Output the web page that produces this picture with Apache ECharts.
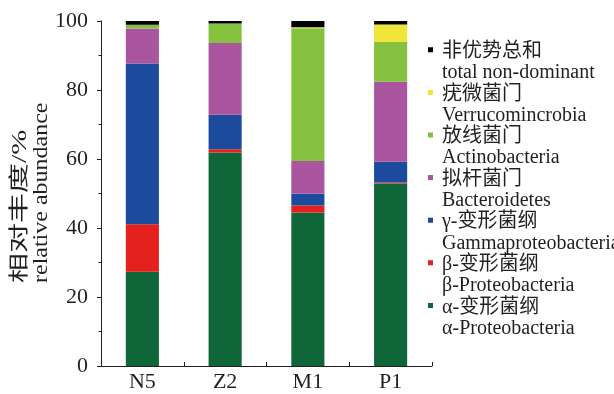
<!DOCTYPE html>
<html>
<head>
<meta charset="utf-8">
<script src="https://cdn.jsdelivr.net/npm/echarts@6/dist/echarts.min.js"></script>
<style>
  html, body { margin: 0; padding: 0; background: #fff; }
  #chart { width: 614px; height: 394px; }
</style>
</head>
<body>
<div id="chart"></div>
<script>
// Samples along the x axis
const categories = ['N5', 'Z2', 'M1', 'P1'];

// Relative abundance (%) of each group, stacked bottom to top
const alphaProteo = [27.3, 61.9, 44.5, 52.9];
const betaProteo = [13.8, 0.9, 2.0, 0.3];
const gammaProteo = [46.6, 10.0, 3.4, 6.0];
const bacteroidetes = [10.1, 20.8, 9.5, 23.2];
const actinobacteria = [1.1, 5.7, 38.5, 11.5];
const verrucomicrobia = [0.0, 0.0, 0.3, 5.1];
const nonDominant = [1.1, 0.7, 1.8, 1.0];

// Y axis ticks
const yTicks = { min: 0, max: 100, interval: 20 };

// Legend labels: Chinese name and English name
const groupNamesZh = ['α-变形菌纲', 'β-变形菌纲', 'γ-变形菌纲', '拟杆菌门', '放线菌门', '疣微菌门', '非优势总和'];
const groupNamesEn = ['α-Proteobacteria', 'β-Proteobacteria', 'Gammaproteobacteria', 'Bacteroidetes', 'Actinobacteria', 'Verrucomincrobia', 'total non-dominant'];
const groupColors = ['#0f6638', '#e5211d', '#1c4a9d', '#a9559f', '#84c13e', '#f0e63a', '#000000'];

const groupValues = [alphaProteo, betaProteo, gammaProteo, bacteroidetes, actinobacteria, verrucomicrobia, nonDominant];

const serif = '"Liberation Serif", "Noto Sans CJK SC", serif';
const ink = '#231f20';

const series = groupNamesZh.map((name, i) => ({
  name: name,
  type: 'bar',
  stack: 'total',
  barWidth: '40%',
  itemStyle: { color: groupColors[i] },
  emphasis: { disabled: true },
  data: groupValues[i]
}));

const enByZh = {};
groupNamesZh.forEach((n, i) => { enByZh[n] = groupNamesEn[i]; });

const chart = echarts.init(document.getElementById('chart'), null, { renderer: 'canvas' });
chart.setOption({
  animation: false,
  backgroundColor: '#ffffff',
  grid: { left: 101, right: 182, top: 21, bottom: 28, containLabel: false },
  xAxis: {
    type: 'category',
    data: categories,
    axisLine: { lineStyle: { color: ink, width: 1 } },
    axisTick: { show: true, inside: true, length: 4, lineStyle: { color: ink } },
    axisLabel: { fontFamily: serif, fontSize: 22, color: ink, margin: 5 }
  },
  yAxis: {
    type: 'value',
    min: yTicks.min,
    max: yTicks.max,
    interval: yTicks.interval,
    axisLine: { show: true, lineStyle: { color: ink, width: 1 } },
    axisTick: { show: true, length: 4, lineStyle: { color: ink } },
    minorTick: { show: true, splitNumber: 2, length: 2.5, lineStyle: { color: ink } },
    splitLine: { show: false },
    axisLabel: { fontFamily: serif, fontSize: 22, color: ink, margin: 13 }
  },
  legend: {
    orient: 'vertical',
    left: 423,
    top: 36,
    itemGap: 0,
    itemWidth: 5,
    itemHeight: 30,
    // small square marker sitting beside the first (Chinese) line
    icon: 'path://M0,0L5,0L5,5L0,5Z M0,30L5,30',
    data: groupNamesZh.slice().reverse(),
    formatter: name => name + '\n' + enByZh[name],
    textStyle: {
      fontFamily: serif,
      fontSize: 20,
      lineHeight: 21.3,
      color: ink,
      padding: [0, 0, 0, 4]
    },
    selectedMode: false
  },
  graphic: [
    {
      type: 'text',
      x: 11,
      y: 283,
      rotation: Math.PI / 2,
      scaleX: 1.5,
      style: {
        text: '相对丰度/%',
        font: '20px ' + serif,
        fill: ink,
        align: 'left',
        verticalAlign: 'top'
      }
    },
    {
      type: 'text',
      x: 30,
      y: 283,
      rotation: Math.PI / 2,
      scaleX: 1.09,
      style: {
        text: 'relative abundance',
        font: '22px ' + serif,
        fill: ink,
        align: 'left',
        verticalAlign: 'top'
      }
    }
  ],
  series: series
});
</script>
</body>
</html>
